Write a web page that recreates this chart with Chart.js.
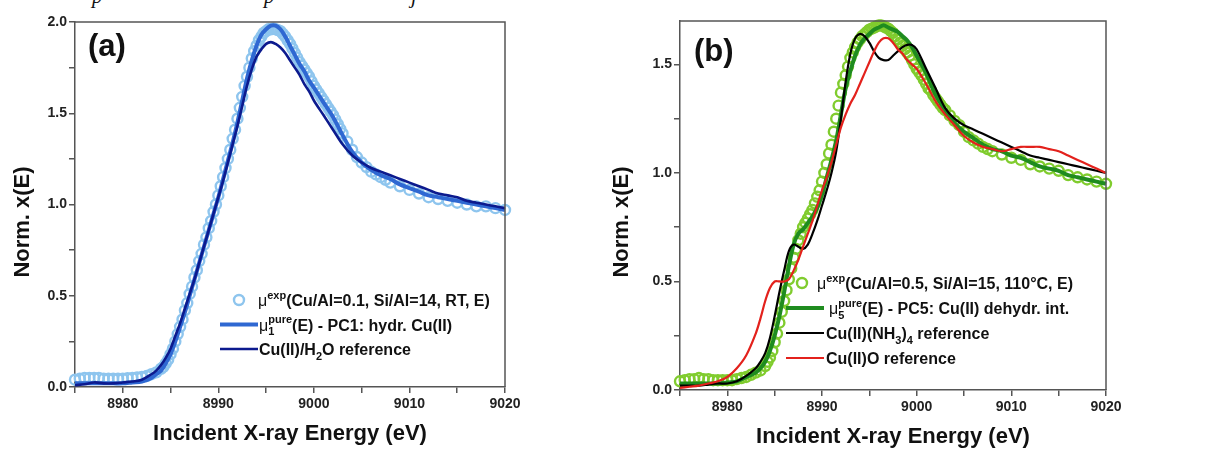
<!DOCTYPE html>
<html><head><meta charset="utf-8">
<script src="https://cdn.jsdelivr.net/npm/chart.js@4.4.0/dist/chart.umd.min.js"></script>
<style>
html,body{margin:0;padding:0;background:#fff;width:1210px;height:452px;overflow:hidden;position:relative;}
#wa{position:absolute;left:0;top:0;width:600px;height:452px;}
#wb{position:absolute;left:600px;top:0;width:610px;height:452px;}
.cap{position:absolute;top:-16px;font:italic 21px "Liberation Serif",serif;color:#111;}
</style></head><body>
<div class="cap" style="left:92px">p</div>
<div class="cap" style="left:264px">p</div>
<div class="cap" style="left:411px">j</div>
<div id="wa"><canvas id="ca" width="600" height="452"></canvas></div>
<div id="wb"><canvas id="cb" width="610" height="452"></canvas></div>
<script>
// ---------- data ----------
const energyLine = [8975,8976,8977,8978,8979,8980,8981,8982,8983,
 8983.5,8984,8984.5,8985,8985.5,8986,8986.5,8987,8987.5,8988,8988.5,8989,8989.5,8990,8990.5,8991,8991.5,8992,8992.5,8993,8993.5,8994,8994.5,8995,8995.5,8996,8996.5,8997,8997.5,8998,8998.5,8999,8999.5,9000,
 9001,9002,9003,9004,9005,9006,9007,9008,9009,9010,9011,9012,9013,9014,9015,9016,9017,9018,9019,9020];

const energyExp = [8975,8975.5,8976,8976.5,8977,8977.5,8978,8978.5,8979,8979.5,8980,8980.5,8981,8981.5,8982,8982.5,8983,8983.5,
 8984,8984.25,8984.5,8984.75,8985,8985.25,8985.5,8985.75,8986,8986.25,8986.5,8986.75,8987,8987.25,8987.5,8987.75,8988,8988.25,8988.5,8988.75,
 8989,8989.25,8989.5,8989.75,8990,8990.25,8990.5,8990.75,8991,8991.25,8991.5,8991.75,8992,8992.25,8992.5,8992.75,8993,8993.25,8993.5,8993.75,
 8994,8994.25,8994.5,8994.75,8995,8995.25,8995.5,8995.75,8996,8996.25,8996.5,8996.75,8997,8997.25,8997.5,8997.75,8998,8998.25,8998.5,8998.75,
 8999,8999.25,8999.5,8999.75,9000,9000.25,9000.5,9000.75,9001,9001.25,9001.5,9001.75,9002,9002.25,9002.5,9002.75,9003,
 9003.5,9004,9004.5,9005,9005.5,9006,9006.5,9007,9007.5,9008,
 9009,9010,9011,9012,9013,9014,9015,9016,9017,9018,9019,9020];

// panel (a)
const expA = [0.04,0.045,0.05,0.05,0.05,0.05,0.045,0.045,0.045,0.045,0.045,0.048,0.05,0.052,0.055,0.06,0.07,0.08,
 0.10,0.11,0.13,0.15,0.18,0.21,0.25,0.29,0.33,0.37,0.42,0.46,0.51,0.55,0.60,0.64,0.69,0.73,0.78,0.82,
 0.87,0.91,0.96,1.00,1.05,1.10,1.15,1.20,1.25,1.30,1.36,1.41,1.47,1.53,1.59,1.65,1.70,1.75,1.80,1.84,
 1.87,1.90,1.92,1.94,1.95,1.96,1.96,1.965,1.96,1.955,1.95,1.935,1.92,1.90,1.88,1.855,1.83,1.805,1.78,1.76,
 1.74,1.72,1.70,1.675,1.65,1.63,1.61,1.59,1.57,1.55,1.53,1.51,1.49,1.465,1.44,1.415,1.39,
 1.345,1.30,1.26,1.23,1.205,1.18,1.165,1.15,1.135,1.12,
 1.10,1.08,1.06,1.04,1.03,1.02,1.01,1.00,0.99,0.99,0.98,0.97];
const pc1A = [0.02,0.02,0.02,0.02,0.02,0.02,0.025,0.03,0.05,
 0.07,0.09,0.13,0.18,0.25,0.33,0.41,0.50,0.59,0.68,0.77,0.86,0.95,1.04,1.14,1.24,1.34,1.45,1.57,1.69,1.79,1.87,1.93,1.96,1.98,1.98,1.96,1.92,1.87,1.82,1.77,1.73,1.68,1.64,
 1.56,1.48,1.38,1.29,1.23,1.19,1.16,1.14,1.11,1.09,1.07,1.05,1.04,1.03,1.02,1.01,1.00,0.99,0.98,0.97];
const h2oRefA = [0.01,0.015,0.025,0.02,0.02,0.025,0.03,0.04,0.07,
 0.09,0.12,0.16,0.21,0.28,0.35,0.43,0.51,0.59,0.68,0.77,0.86,0.95,1.04,1.13,1.23,1.33,1.43,1.54,1.65,1.74,1.81,1.85,1.88,1.89,1.88,1.86,1.83,1.79,1.75,1.71,1.66,1.62,1.57,
 1.49,1.41,1.33,1.27,1.23,1.20,1.18,1.16,1.14,1.12,1.10,1.08,1.06,1.05,1.04,1.02,1.01,1.00,0.99,0.98];

// panel (b)
const expB = [0.04,0.045,0.05,0.05,0.055,0.05,0.05,0.045,0.045,0.045,0.045,0.045,0.05,0.055,0.06,0.07,0.08,0.09,
 0.11,0.13,0.15,0.18,0.22,0.26,0.31,0.36,0.41,0.46,0.51,0.56,0.61,0.65,0.69,0.72,0.75,0.77,0.79,0.81,
 0.83,0.86,0.89,0.92,0.96,1.00,1.04,1.09,1.13,1.19,1.25,1.31,1.37,1.41,1.45,1.49,1.53,1.555,1.58,1.60,
 1.615,1.63,1.64,1.65,1.66,1.665,1.67,1.675,1.68,1.68,1.675,1.67,1.665,1.655,1.645,1.63,1.615,1.60,1.585,1.57,
 1.555,1.54,1.52,1.50,1.48,1.465,1.45,1.43,1.41,1.39,1.38,1.36,1.345,1.33,1.315,1.30,1.29,
 1.265,1.24,1.22,1.19,1.165,1.15,1.135,1.12,1.11,1.10,
 1.085,1.07,1.06,1.04,1.03,1.02,1.01,0.99,0.98,0.97,0.96,0.95];
const pc5B = [0.03,0.03,0.03,0.03,0.03,0.035,0.04,0.06,0.08,
 0.10,0.13,0.18,0.25,0.34,0.45,0.57,0.67,0.72,0.74,0.77,0.80,0.84,0.90,0.98,1.06,1.15,1.27,1.39,1.47,1.54,1.59,1.62,1.64,1.66,1.67,1.68,1.67,1.66,1.65,1.63,1.61,1.58,1.54,
 1.46,1.36,1.29,1.23,1.19,1.16,1.13,1.11,1.10,1.08,1.07,1.05,1.03,1.02,1.01,0.99,0.98,0.97,0.96,0.95];
const nh3RefB = [0.02,0.02,0.02,0.025,0.03,0.03,0.04,0.065,0.10,
 0.13,0.17,0.24,0.34,0.45,0.55,0.64,0.67,0.66,0.65,0.67,0.72,0.78,0.85,0.92,1.00,1.10,1.25,1.42,1.55,1.62,1.64,1.63,1.60,1.56,1.53,1.52,1.52,1.54,1.56,1.58,1.59,1.59,1.57,
 1.48,1.39,1.30,1.25,1.22,1.20,1.18,1.16,1.14,1.12,1.10,1.08,1.07,1.06,1.05,1.04,1.03,1.02,1.01,1.00];
const cuoRefB = [0.01,0.015,0.02,0.03,0.04,0.06,0.10,0.16,0.26,
 0.33,0.41,0.47,0.50,0.50,0.50,0.51,0.55,0.60,0.66,0.72,0.78,0.85,0.92,0.98,1.05,1.13,1.21,1.27,1.32,1.36,1.41,1.46,1.51,1.56,1.60,1.62,1.62,1.60,1.57,1.55,1.52,1.50,1.48,
 1.41,1.33,1.27,1.22,1.17,1.14,1.12,1.11,1.10,1.11,1.12,1.12,1.12,1.11,1.10,1.08,1.06,1.04,1.02,1.00];

const xTickLabels = [8980, 8990, 9000, 9010, 9020];
const yTickLabels = [0.0, 0.5, 1.0, 1.5, 2.0];

// ---------- helpers ----------
const FONT = '"Liberation Sans", Arial, Helvetica, sans-serif';
const AXIS = '#555';
const pts = (xs, ys) => xs.map((x, i) => ({x: x, y: ys[i]}));

function lineDs(label, xs, ys, color, width) {
  return {label, data: pts(xs, ys), borderColor: color, backgroundColor: color,
    borderWidth: width, pointRadius: 0, showLine: true, tension: 0.35, clip: 4};
}
function circleDs(label, xs, ys, color) {
  return {label, data: pts(xs, ys), borderColor: color, backgroundColor: 'rgba(0,0,0,0)',
    showLine: false, pointRadius: 5, pointBorderWidth: 2.4, pointBorderColor: color,
    pointBackgroundColor: 'rgba(0,0,0,0)', clip: 8};
}

function drawRich(ctx, x, y, parts, fs) {
  let cx = x;
  ctx.fillStyle = '#111';
  ctx.textBaseline = 'alphabetic';
  ctx.textAlign = 'left';
  for (const p of parts) {
    if (p.t !== undefined) {
      ctx.font = (p.normal ? '' : 'bold ') + fs + 'px ' + FONT;
      ctx.fillText(p.t, cx, y);
      cx += ctx.measureText(p.t).width;
    } else {
      ctx.font = 'bold ' + Math.round(fs * 0.68) + 'px ' + FONT;
      let w = 0;
      if (p.sup) { ctx.fillText(p.sup, cx, y - fs * 0.45); w = Math.max(w, ctx.measureText(p.sup).width); }
      if (p.sub) { ctx.fillText(p.sub, cx, y + fs * 0.3); w = Math.max(w, ctx.measureText(p.sub).width); }
      cx += w;
    }
  }
}

function panelPlugin(cfg) {
  return {
    id: 'panel',
    afterDraw(chart) {
      const ctx = chart.ctx, a = chart.chartArea;
      ctx.save();
      // frame top & right
      ctx.strokeStyle = AXIS; ctx.lineWidth = 1.5;
      ctx.beginPath(); ctx.moveTo(a.left, a.top); ctx.lineTo(a.right, a.top); ctx.lineTo(a.right, a.bottom); ctx.stroke();
      // y axis title
      ctx.save();
      ctx.translate(cfg.ytX, cfg.ytY);
      ctx.rotate(-Math.PI / 2);
      ctx.fillStyle = '#111';
      ctx.font = 'bold 22px ' + FONT;
      ctx.textAlign = 'center'; ctx.textBaseline = 'middle';
      ctx.fillText('Norm. x(E)', 0, 0);
      ctx.restore();
      // panel label
      ctx.fillStyle = '#111';
      ctx.font = 'bold 31px ' + FONT;
      ctx.textBaseline = 'alphabetic'; ctx.textAlign = 'left';
      ctx.fillText(cfg.tag, cfg.tagX, cfg.tagY);
      // legend
      const L = cfg.legend;
      L.rows.forEach((r, i) => {
        const y = L.y0 + i * L.dy;
        if (r.kind === 'circle') {
          ctx.beginPath(); ctx.arc(L.cx, y, 5, 0, Math.PI * 2);
          ctx.strokeStyle = r.color; ctx.lineWidth = 2.4; ctx.stroke();
        } else {
          ctx.beginPath(); ctx.moveTo(L.x1, y); ctx.lineTo(L.x2, y);
          ctx.strokeStyle = r.color; ctx.lineWidth = r.width; ctx.stroke();
        }
        drawRich(ctx, r.tx, y + 6, r.parts, L.fs);
      });
      ctx.restore();
    }
  };
}

function makeChart(id, datasets, o) {
  return new Chart(document.getElementById(id), {
    type: 'scatter',
    data: {datasets},
    options: {
      responsive: false, animation: false, events: [],
      layout: {padding: {left: 0, top: o.top, right: o.right, bottom: 0}},
      plugins: {legend: {display: false}, tooltip: {enabled: false}},
      scales: {
        x: {type: 'linear', min: 8975, max: 9020,
          afterFit: s => { s.height = o.xh; },
          border: {display: true, color: AXIS, width: 1.5},
          grid: {display: true, drawOnChartArea: false, drawTicks: true, tickLength: 6, color: AXIS, lineWidth: 1.5},
          ticks: {stepSize: 5, autoSkip: false, maxRotation: 0, padding: 3, color: '#222',
            font: {family: FONT, size: 14, weight: 'bold'},
            callback: v => xTickLabels.includes(v) ? String(v) : ''},
          title: {display: true, text: 'Incident X-ray Energy (eV)', color: '#111',
            font: {family: FONT, size: 22, weight: 'bold'}, padding: {top: 0, bottom: o.xtPad}}
        },
        y: {type: 'linear', min: 0, max: o.ymax,
          afterFit: s => { s.width = o.yw; },
          border: {display: true, color: AXIS, width: 1.5},
          grid: {display: true, drawOnChartArea: false, drawTicks: true, tickLength: 6, color: AXIS, lineWidth: 1.5},
          ticks: {stepSize: 0.25, includeBounds: false, autoSkip: false, padding: 2, color: '#222',
            font: {family: FONT, size: 14, weight: 'bold'},
            callback: v => yTickLabels.some(t => Math.abs(t - v) < 1e-6) ? v.toFixed(1) : ''},
          title: {display: false}
        }
      }
    },
    plugins: [panelPlugin(o)]
  });
}

// ---------- panel (a) ----------
const cExpA = '#8ec5ee', cPc1 = '#2f68d2', cNavy = '#0c1a8e';
makeChart('ca', [
  lineDs('Cu(II)/H2O reference', energyLine, h2oRefA, cNavy, 2.6),
  lineDs('PC1: hydr. Cu(II)', energyLine, pc1A, cPc1, 4),
  circleDs('exp (Cu/Al=0.1, Si/Al=14, RT, E)', energyExp, expA, cExpA)
], {top: 22, right: 95, xh: 65, yw: 75, ymax: 2.0, xtPad: 5, tag: '(a)', tagX: 88, tagY: 56,
  ytX: 23, ytY: 222,
  legend: {fs: 16, y0: 300, dy: 24.5, cx: 239, x1: 220, x2: 258, rows: [
    {kind: 'circle', color: cExpA, tx: 258, parts: [{t: 'μ', normal: true}, {sup: 'exp'}, {t: '(Cu/Al=0.1, Si/Al=14, RT, E)'}]},
    {kind: 'line', color: cPc1, width: 4, tx: 259, parts: [{t: 'μ', normal: true}, {sup: 'pure', sub: '1'}, {t: '(E) - PC1: hydr. Cu(II)'}]},
    {kind: 'line', color: cNavy, width: 2.6, tx: 259, parts: [{t: 'Cu(II)/H'}, {sub: '2'}, {t: 'O reference'}]}
  ]}
});

// ---------- panel (b) ----------
const cExpB = '#80cc2e', cPc5 = '#1f8c1f', cBlack = '#000000', cRed = '#e3211c';
makeChart('cb', [
  lineDs('Cu(II)O reference', energyLine, cuoRefB, cRed, 2.2),
  lineDs('Cu(II)(NH3)4 reference', energyLine, nh3RefB, cBlack, 2.2),
  lineDs('PC5: Cu(II) dehydr. int.', energyLine, pc5B, cPc5, 4),
  circleDs('exp (Cu/Al=0.5, Si/Al=15, 110°C, E)', energyExp, expB, cExpB)
], {top: 21, right: 104, xh: 62, yw: 80, ymax: 1.7, xtPad: 2, tag: '(b)', tagX: 94, tagY: 61,
  ytX: 22, ytY: 222,
  legend: {fs: 16, y0: 283, dy: 25, cx: 202, x1: 186, x2: 224, rows: [
    {kind: 'circle', color: cExpB, tx: 217, parts: [{t: 'μ', normal: true}, {sup: 'exp'}, {t: '(Cu/Al=0.5, Si/Al=15, 110°C, E)'}]},
    {kind: 'line', color: cPc5, width: 4, tx: 229, parts: [{t: 'μ', normal: true}, {sup: 'pure', sub: '5'}, {t: '(E) - PC5: Cu(II) dehydr. int.'}]},
    {kind: 'line', color: cBlack, width: 2.2, tx: 226, parts: [{t: 'Cu(II)(NH'}, {sub: '3'}, {t: ')'}, {sub: '4'}, {t: ' reference'}]},
    {kind: 'line', color: cRed, width: 2.2, tx: 226, parts: [{t: 'Cu(II)O reference'}]}
  ]}
});
</script>
</body></html>
